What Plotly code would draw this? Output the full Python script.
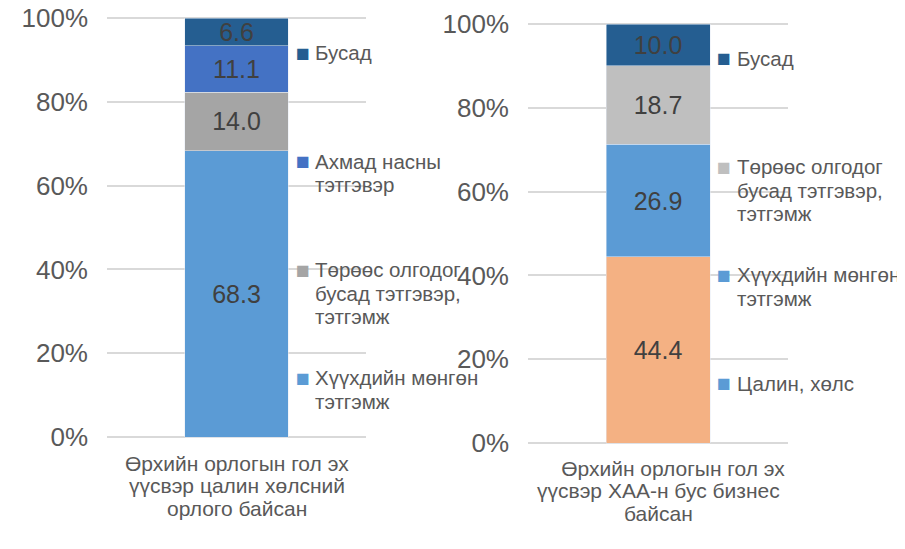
"""Өрхийн орлогын бүтэц - хоёр давхар баганан график."""

from plotly.graph_objects import Bar, Figure

# ---- data ----
category_left = "Өрхийн орлогын гол эх үүсвэр цалин хөлсний орлого байсан"
category_left_lines = ["Өрхийн орлогын гол эх", "үүсвэр цалин хөлсний", "орлого байсан"]
category_right = "Өрхийн орлогын гол эх үүсвэр ХАА-н бус бизнес байсан"
category_right_lines = ["\u00a0\u00a0\u00a0\u00a0\u00a0Өрхийн орлогын гол эх",
                        "үүсвэр ХАА-н бус бизнес", "байсан"]

# series are listed bottom -> top of the stack
series_left = [
    ["Хүүхдийн мөнгөн", "тэтгэмж"],
    ["Төрөөс олгодог", "бусад тэтгэвэр,", "тэтгэмж"],
    ["Ахмад насны", "тэтгэвэр"],
    ["Бусад"],
]
values_left = [68.3, 14.0, 11.1, 6.6]

series_right = [
    ["Цалин, хөлс"],
    ["Хүүхдийн мөнгөн", "тэтгэмж"],
    ["Төрөөс олгодог", "бусад тэтгэвэр,", "тэтгэмж"],
    ["Бусад"],
]
values_right = [44.4, 26.9, 18.7, 10.0]

y_tick_values = [0, 20, 40, 60, 80, 100]
y_tick_labels = ["0%", "20%", "40%", "60%", "80%", "100%"]

# ---- styles ----
colors_left = ["#5b9bd5", "#a5a5a5", "#4472c4", "#255e91"]
colors_right = ["#f4b183", "#5b9bd5", "#bfbfbf", "#255e91"]
# legend markers (the wage entry uses a blue key in the original)
keys_right = ["#5b9bd5", "#5b9bd5", "#bfbfbf", "#255e91"]

OFF = 8  # page body margin in the screenshot
W, H = 905 - OFF, 549 - OFF
FONT = "Arial, 'Liberation Sans', sans-serif"
GREY = "#595959"
PAD = 0.25  # small range pad so the 0% and 100% grid lines are drawn


def py(p):
    """screen pixel row -> paper y"""
    return 1 - (p - OFF) / H


def px(p):
    """screen pixel column -> paper x"""
    return (p - OFF) / W


def add_stack(fig, category, names, values, colors, xa, ya):
    for name, v, c in zip(names, values, colors):
        fig.add_trace(Bar(x=[category], y=[v], name=" ".join(name),
                          marker_color=c, width=0.4,
                          text=[v], texttemplate="%{y:.1f}",
                          textposition="inside", insidetextanchor="middle",
                          constraintext="none",
                          textfont=dict(family=FONT, size=25, color="#404040"),
                          xaxis=xa, yaxis=ya, showlegend=False,
                          hoverinfo="skip"))


def add_key(names, colors, x_key, x_text, y_top, step, line_gap):
    """legend drawn to the right of the bar, top entry first"""
    anns = []
    for i, (name, c) in enumerate(zip(reversed(names), reversed(colors))):
        y0 = y_top + i * step
        anns.append(dict(x=px(x_key), y=py(y0), xref="paper", yref="paper",
                         text="■", showarrow=False, xanchor="center",
                         yanchor="middle",
                         font=dict(family=FONT, size=23, color=c)))
        for j, line in enumerate(name):
            anns.append(dict(x=px(x_text), y=py(y0 + j * line_gap),
                             xref="paper", yref="paper", text=line,
                             showarrow=False, xanchor="left", yanchor="middle",
                             font=dict(family=FONT, size=20.5, color=GREY)))
    return anns


def add_category(category, lines, xa, y_top, line_gap):
    anns = []
    for j, line in enumerate(lines):
        anns.append(dict(x=category, y=py(y_top + j * line_gap), xref=xa,
                         yref="paper", text=line, showarrow=False,
                         xanchor="center", yanchor="middle",
                         font=dict(family=FONT, size=21, color=GREY)))
    return anns


def main():
    fig = Figure()
    add_stack(fig, category_left, series_left, values_left, colors_left, "x", "y")
    add_stack(fig, category_right, series_right, values_right, colors_right, "x2", "y2")

    yaxis_style = dict(range=[-PAD, 100 + PAD], tickvals=y_tick_values,
                       ticktext=y_tick_labels, automargin=False,
                       ticklabeloverflow="allow",
                       showgrid=True, gridcolor="#d9d9d9", gridwidth=1.5,
                       zeroline=False, showline=False, ticks="",
                       ticklabelstandoff=18,
                       tickfont=dict(family=FONT, size=26, color=GREY))
    xaxis_style = dict(range=[-0.5, 0.5], showticklabels=False, showgrid=False,
                       zeroline=False, showline=False, ticks="", automargin=False)

    k = 419 / 100 * PAD  # pixels taken by the pad
    anns = []
    anns += add_key(series_left, colors_left, 303, 313, 53, 108.3, 23.5)
    anns += add_key(series_right, keys_right, 724, 735, 58.5, 108.2, 23.5)
    anns += add_category(category_left, category_left_lines, "x", 463, 22.5)
    anns += add_category(category_right, category_right_lines, "x2", 468, 22.5)

    fig.update_layout(
        width=W, height=H, barmode="stack",
        margin=dict(l=0, r=0, t=0, b=0),
        paper_bgcolor="white", plot_bgcolor="white",
        xaxis=dict(domain=[px(107), px(366)], **xaxis_style),
        xaxis2=dict(domain=[px(528), px(788)], anchor="y2", **xaxis_style),
        yaxis=dict(domain=[py(437 + k), py(18 - k)], anchor="x", **yaxis_style),
        yaxis2=dict(domain=[py(443 + k), py(24 - k)], anchor="x2", **yaxis_style),
        annotations=anns,
        font=dict(family=FONT, color=GREY),
    )
    fig.write_html("out.html")


if __name__ == "__main__":
    main()
